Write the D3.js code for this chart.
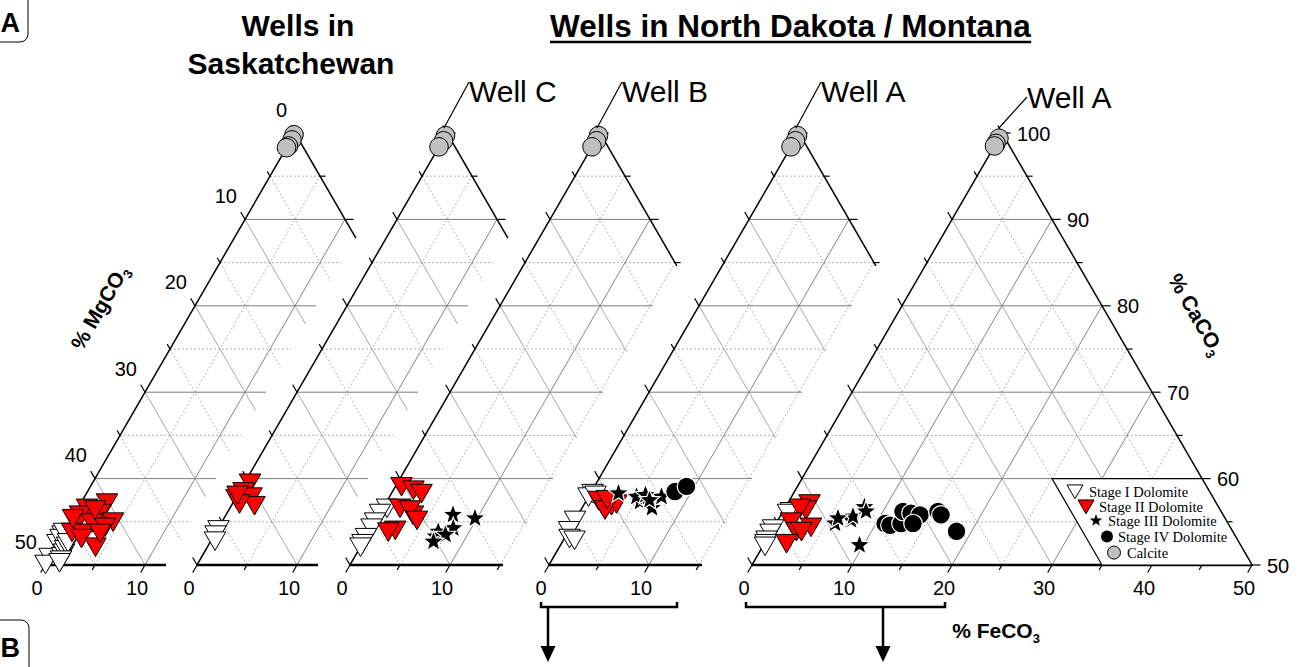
<!DOCTYPE html>
<html>
<head>
<meta charset="utf-8">
<script src="https://cdn.jsdelivr.net/npm/d3@7"></script>
<style>
  body { margin: 0; background: #fff; }
  svg { display: block; }
</style>
</head>
<body>
<svg id="chart" width="1299" height="667"></svg>
<script>
// Carbonate compositions as [CaCO3 %, FeCO3 %]; MgCO3 is the remainder to 100 %.

// Saskatchewan wells
const saskStageI = [[53.5, 0], [52.5, 0], [50.9, 0], [50.1, 0], [53.1, 0], [53.8, 0],
  [51.0, 1.2], [51.4, 1.2], [51.8, 1.1], [52.2, 1.1], [52.6, 1.0], [50.6, 1.3], [50.3, 1.3]];
const saskStageII = [[57.2, 2.6], [56.6, 0.9], [55.8, 0.6], [56.0, 2.5], [55.0, 4.3], [54.9, 0.75],
  [54.9, 2.25], [53.8, 0.8], [53.7, 1.95], [54.4, 3.8], [53.1, 2.1], [52.1, 4.0], [53.7, 3.65],
  [56.4, 1.8], [55.4, 0.1]];
const saskCalcite = [[99.8, 0], [99.2, 0.1], [98.5, 0.1], [98.3, 0]];

// Well C
const wellCStageI = [[54.1, 0.1], [53.5, 0.1], [52.8, 0.4]];
const wellCStageII = [[59.5, 0.55], [58.5, 0.4], [57.7, 0.1], [57.9, 1.5], [56.9, 2.3], [57.1, 0.7], [58.1, 0]];
const wellCCalcite = [[99.7, 0], [99.1, 0.1], [98.4, 0]];

// Well B
const wellBStageI = [[56.6, 0.4], [56.0, 0], [55.0, 0], [54.3, 0], [53.2, 0], [52.5, 0], [52.1, 0]];
const wellBStageII = [[59.1, 0.6], [58.7, 2.0], [58.3, 3.0], [56.6, 1.7], [55.8, 3.4], [54.05, 2.5],
  [53.85, 1.9], [56.4, 2.8], [55.2, 4.1]];
const wellBStageIII = [[55.8, 7.4], [55.4, 9.8], [54.25, 8.2], [53.3, 6.9], [53.85, 6.9], [53.5, 7.8], [52.7, 7.0]];
const wellBCalcite = [[99.7, 0], [99.1, 0.1], [98.4, 0]];

// Well A, first set
const wellA1StageI = [[58.3, 0.2], [57.9, 0], [55.2, 0], [54.0, 0], [53.1, 0.5], [52.9, 1.1], [58.1, 0.6]];
const wellA1StageII = [[57.1, 1.7], [57.5, 1.2], [56.9, 2.8], [57.1, 3.2], [56.4, 2.4], [57.6, 2.0]];
const wellA1StageIII = [[58.3, 2.8], [57.3, 5.45], [56.6, 7.0], [57.9, 7.3], [57.9, 4.8], [58.1, 5.6], [57.5, 6.3]];
const wellA1StageIV = [[58.5, 8.35], [59.1, 9.2]];
const wellA1Calcite = [[99.7, 0], [99.1, 0.1], [98.4, 0]];

// Well A, second set
const wellA2StageI = [[54.2, 0], [53.7, 0], [52.9, 0], [52.5, 0.1], [56.2, 0.8], [56.0, 0.6], [52.2, 0.2]];
const wellA2StageII = [[57.1, 2.2], [56.4, 2.2], [56.6, 1.5], [55.0, 1.4], [53.9, 2.5], [54.4, 3.7], [52.5, 2.2], [53.9, 3.0]];
const wellA2StageIII = [[54.8, 5.9], [55.2, 7.3], [55.6, 7.3], [56.7, 7.9], [52.3, 9.6], [55.4, 5.9], [56.2, 8.3]];
const wellA2StageIV = [[54.8, 10.9], [54.6, 11.5], [54.8, 12.5], [56.2, 12.0], [56.0, 12.9], [55.8, 13.9],
  [54.8, 13.7], [56.2, 15.5], [55.8, 16.0], [53.9, 18.5]];
const wellA2Calcite = [[99.4, 0], [98.8, 0], [98.5, 0]];

// Tick labels
const mgTickLabels = [0, 10, 20, 30, 40, 50];
const feTickLabelsShort = [0, 10];
const feTickLabelsFull = [0, 10, 20, 30, 40, 50];
const caTickLabels = [50, 60, 70, 80, 90, 100];

// Text
const wellNames = ["", "Well C", "Well B", "Well A", "Well A"];
const legendLabels = ["Stage I Dolomite", "Stage II Dolomite", "Stage III Dolomite", "Stage IV Dolomite", "Calcite"];

// ---------- layout ----------
const panelLeft = [45, 197, 350, 549, 752];   // x of the CaCO3=50 / FeCO3=0 corner
const panelFeMax = [12.1, 12.1, 15.3, 15.3, 50]; // visible FeCO3 range of each panel
const SIDE = 500, BASE = 565, HEIGHT = 432;
const sans = "'Liberation Sans', Arial, Helvetica, sans-serif";
const serif = "'Liberation Serif', 'Times New Roman', serif";

const panelSeries = [
  [saskStageI, saskStageII, [], [], saskCalcite],
  [wellCStageI, wellCStageII, [], [], wellCCalcite],
  [wellBStageI, wellBStageII, wellBStageIII, [], wellBCalcite],
  [wellA1StageI, wellA1StageII, wellA1StageIII, wellA1StageIV, wellA1Calcite],
  [wellA2StageI, wellA2StageII, wellA2StageIII, wellA2StageIV, wellA2Calcite]
];

const svg = d3.select("#chart");

// ---------- marker shapes ----------
function downTriangle(w) {
  const h = w * 0.866;
  return `M${-w / 2},${-h * 0.48}L${w / 2},${-h * 0.48}L0,${h * 0.52}Z`;
}
function starPath(R) {
  const r = R * 0.42;
  let p = "";
  for (let k = 0; k < 10; k++) {
    const a = -Math.PI / 2 + k * Math.PI / 5;
    const rr = k % 2 ? r : R;
    p += (k ? "L" : "M") + (rr * Math.cos(a)).toFixed(2) + "," + (rr * Math.sin(a)).toFixed(2);
  }
  return p + "Z";
}
const circlePath = r => d3.arc()({ innerRadius: 0, outerRadius: r, startAngle: 0, endAngle: 2 * Math.PI });

const markerStyles = [
  { path: downTriangle(21.5), fill: "#ffffff", stroke: "#000", sw: 1 },
  { path: downTriangle(21.5), fill: "#ff0000", stroke: "#000", sw: 1 },
  { path: starPath(11), fill: "#000", stroke: "#fff", sw: 1.2 },
  { path: circlePath(9.3), fill: "#000", stroke: "#fff", sw: 1.2 },
  { path: circlePath(9.3), fill: "#c0c0c0", stroke: "#000", sw: 1 }
];
const legendMarkers = [
  { path: downTriangle(16), fill: "#ffffff", stroke: "#000", sw: 1 },
  { path: downTriangle(16), fill: "#ff0000", stroke: "#000", sw: 1 },
  { path: starPath(6.5), fill: "#000", stroke: "none", sw: 0 },
  { path: circlePath(6), fill: "#000", stroke: "none", sw: 0 },
  { path: circlePath(6.5), fill: "#c0c0c0", stroke: "#000", sw: 1 }
];

// ---------- panels ----------
panelLeft.forEach((left, i) => {
  const fx = d3.scaleLinear().domain([0, 50]).range([left, left + SIDE]);
  const cy = d3.scaleLinear().domain([50, 100]).range([BASE, BASE - HEIGHT]);
  const proj = (ca, fe) => [fx(fe + (ca - 50) / 2), cy(ca)];
  const feMax = panelFeMax[i];
  const g = svg.append("g");

  const seg = (a, b, cls) => {
    const l = g.append("line")
      .attr("x1", a[0]).attr("y1", a[1]).attr("x2", b[0]).attr("y2", b[1]);
    if (cls === "major-h") l.attr("stroke", "#7d7d7d").attr("stroke-width", 1);
    else if (cls === "major-fe") l.attr("stroke", "#858585").attr("stroke-width", 1);
    else if (cls === "major-mg") l.attr("stroke", "#a8a8a8").attr("stroke-width", 1);
    else if (cls === "minor") l.attr("stroke", "#a9a9a9").attr("stroke-width", 0.9).attr("stroke-dasharray", "2,2");
    else l.attr("stroke", "#000").attr("stroke-width", cls).attr("stroke-linecap", "square");
    return l;
  };

  // grid every 5 %, solid at 10 %
  for (let v = 5; v < 50; v += 5) {
    const major = v % 10 === 0;
    const ca = 50 + v;
    seg(proj(ca, 0), proj(ca, Math.min(100 - ca, feMax)), major ? "major-h" : "minor");
    if (v <= feMax) seg(proj(50, v), proj(100 - v, v), major ? "major-fe" : "minor");
    const fEnd = Math.min(50 - v, feMax);
    seg(proj(100 - v, 0), proj(100 - v - fEnd, fEnd), major ? "major-mg" : "minor");
  }

  // triangle edges
  const feEdge = Math.min(50, feMax);
  seg(proj(50, 0), proj(100, 0), 1.5);
  seg(proj(100, 0), proj(100 - feEdge, feEdge), 1.5);
  seg(proj(50, 0), proj(50, feMax), 2.5).attr("stroke-linecap", "butt");

  // ticks
  for (let ca = 50; ca <= 100; ca += 5) {
    const p = proj(ca, 0), len = ca % 10 === 0 ? 8 : 5;
    seg(p, [p[0] - 0.5 * len, p[1] - 0.866 * len], 1.2);
  }
  for (let fe = 0; fe <= feMax + 1e-9; fe += 5) {
    const p = proj(50, fe), len = fe % 10 === 0 ? 8 : 5;
    seg(p, [p[0] - 0.5 * len, p[1] + 0.866 * len], 1.2);
  }
  for (let ca = 100; ca >= 50 && 100 - ca <= feMax + 1e-9; ca -= 5) {
    const p = proj(ca, 100 - ca), len = ca % 10 === 0 ? 8 : 5;
    seg(p, [p[0] + len, p[1]], 1.2);
  }

  // tick labels
  const bottomLabels = i === panelLeft.length - 1 ? feTickLabelsFull : feTickLabelsShort;
  bottomLabels.forEach(v => {
    const p = proj(50, v);
    g.append("text").attr("x", p[0] - 8).attr("y", p[1] + 30)
      .attr("text-anchor", "middle").attr("font-family", sans).attr("font-size", 20).text(v);
  });
  if (i === 0) {
    mgTickLabels.forEach(v => {
      const p = proj(100 - v, 0);
      g.append("text").attr("x", p[0] - 8).attr("y", p[1] - 16.5)
        .attr("text-anchor", "end").attr("font-family", sans).attr("font-size", 20).text(v);
    });
  }
  if (i === panelLeft.length - 1) {
    caTickLabels.forEach(v => {
      const p = proj(v, 100 - v);
      g.append("text").attr("x", p[0] + 15).attr("y", p[1] + 7.5)
        .attr("text-anchor", "start").attr("font-family", sans).attr("font-size", 20).text(v);
    });

    // legend box bounded by CaCO3 <= 60 and MgCO3 <= 15
    const box = [proj(60, 25), proj(60, 40), proj(50, 50), proj(50, 35)];
    g.append("path").attr("d", "M" + box.join("L") + "Z")
      .attr("fill", "#fff").attr("stroke", "#000").attr("stroke-width", 1.2);
    const lg = g.append("g").attr("transform", `translate(${box[0][0]},${box[0][1]})`);
    const offsets = [[23, 13, 37, 18.5], [34, 28, 47, 33], [44, 42, 56, 47.5], [55, 58, 66, 63], [62, 74, 75, 79]];
    legendLabels.forEach((lab, k) => {
      const m = legendMarkers[k], o = offsets[k];
      lg.append("path").attr("d", m.path).attr("transform", `translate(${o[0]},${o[1]})`)
        .attr("fill", m.fill).attr("stroke", m.stroke).attr("stroke-width", m.sw);
      lg.append("text").attr("x", o[2]).attr("y", o[3])
        .attr("font-family", serif).attr("font-size", 14.5).text(lab);
    });
  }

  // data points, Stage I first, calcite last
  panelSeries[i].forEach((series, k) => {
    const st = markerStyles[k];
    g.append("g").selectAll("path").data(series).join("path")
      .attr("d", st.path)
      .attr("transform", d => { const p = proj(d[0], d[1]); return `translate(${p[0]},${p[1]})`; })
      .attr("fill", st.fill).attr("stroke", st.stroke).attr("stroke-width", st.sw)
      .attr("stroke-linejoin", "miter");
  });

  // well name with leader line to the CaCO3 apex
  if (wellNames[i]) {
    const apex = proj(100, 0);
    const last = i === panelLeft.length - 1;
    const tx = apex[0] + (last ? 25 : 22);
    const ty = last ? 108 : 102;
    g.append("line").attr("x1", tx).attr("y1", ty - (last ? 11 : 20))
      .attr("x2", apex[0] - 3).attr("y2", apex[1] - 5)
      .attr("stroke", "#000").attr("stroke-width", 1.2);
    g.append("text").attr("x", tx).attr("y", ty)
      .attr("font-family", sans).attr("font-size", 30).text(wellNames[i]);
  }
});

// ---------- titles ----------
svg.append("text").attr("x", 298).attr("y", 36).attr("text-anchor", "middle")
  .attr("font-family", sans).attr("font-weight", "bold").attr("font-size", 30).text("Wells in");
svg.append("text").attr("x", 291).attr("y", 74).attr("text-anchor", "middle")
  .attr("font-family", sans).attr("font-weight", "bold").attr("font-size", 30).text("Saskatchewan");
const nd = svg.append("text").attr("x", 550).attr("y", 37)
  .attr("font-family", sans).attr("font-weight", "bold").attr("font-size", 31.5)
  .text("Wells in North Dakota / Montana");
const ndBox = nd.node().getBBox();
svg.append("line").attr("x1", ndBox.x).attr("x2", ndBox.x + ndBox.width)
  .attr("y1", 42).attr("y2", 42).attr("stroke", "#000").attr("stroke-width", 2.5);

// ---------- axis titles ----------
function axisTitle(x, y, rot, main) {
  const t = svg.append("text").attr("transform", `translate(${x},${y}) rotate(${rot})`)
    .attr("text-anchor", "middle").attr("font-family", sans).attr("font-weight", "bold").attr("font-size", 21);
  t.append("tspan").text(main);
  t.append("tspan").attr("font-size", 13).attr("dy", 5).text("3");
}
axisTitle(106, 311, -60, "% MgCO");
axisTitle(1190, 318, 60, "% CaCO");
axisTitle(996, 638, 0, "% FeCO");

// ---------- brackets with arrows ----------
function bracket(x0, x1, xa) {
  const y = 607;
  svg.append("path").attr("d", `M${x0},${y - 5}L${x0},${y}L${x1},${y}L${x1},${y - 5}`)
    .attr("fill", "none").attr("stroke", "#000").attr("stroke-width", 2.5);
  svg.append("line").attr("x1", xa).attr("x2", xa).attr("y1", y).attr("y2", 648)
    .attr("stroke", "#000").attr("stroke-width", 2.5);
  svg.append("path").attr("d", `M${xa - 7.5},646L${xa + 7.5},646L${xa},662Z`).attr("fill", "#000");
}
bracket(541, 677, 548);
bracket(746, 945, 883);

// ---------- panel letters ----------
svg.append("rect").attr("x", -20).attr("y", -20).attr("width", 48).attr("height", 62).attr("rx", 8)
  .attr("fill", "none").attr("stroke", "#000").attr("stroke-width", 1);
svg.append("text").attr("x", 0.5).attr("y", 32).attr("text-anchor", "start")
  .attr("font-family", sans).attr("font-weight", "bold").attr("font-size", 27).text("A");
svg.append("rect").attr("x", -20).attr("y", 620).attr("width", 49).attr("height", 70).attr("rx", 8)
  .attr("fill", "none").attr("stroke", "#000").attr("stroke-width", 1);
svg.append("text").attr("x", 0.5).attr("y", 657).attr("text-anchor", "start")
  .attr("font-family", sans).attr("font-weight", "bold").attr("font-size", 27).text("B");
</script>
</body>
</html>
